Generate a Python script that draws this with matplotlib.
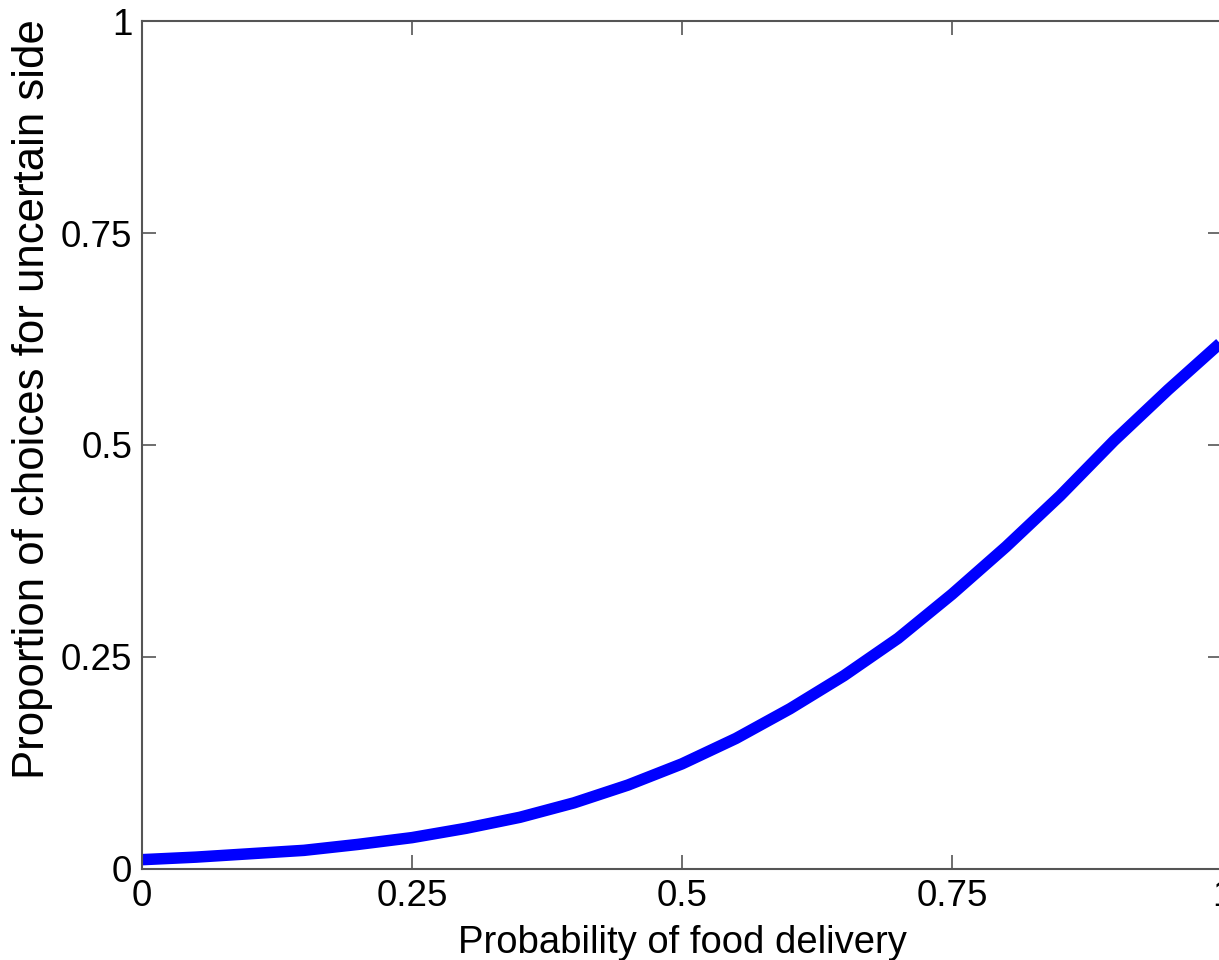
import numpy as np
import matplotlib.pyplot as plt

plt.rcParams['font.family'] = ['Liberation Sans', 'DejaVu Sans']

# valores
prob_comida = [0.00, 0.05, 0.10, 0.15, 0.20, 0.25, 0.30, 0.35, 0.40, 0.45, 0.50,
               0.55, 0.60, 0.65, 0.70, 0.75, 0.80, 0.85, 0.90, 0.95, 1.00]
prop_incierto = [0.011, 0.014, 0.018, 0.022, 0.029, 0.037, 0.048, 0.061, 0.078, 0.099, 0.124,
                 0.154, 0.189, 0.228, 0.272, 0.324, 0.380, 0.440, 0.505, 0.565, 0.622]
ticks = [0, 0.25, 0.5, 0.75, 1]
tick_labels = ['0', '0.25', '0.5', '0.75', '1']

fig = plt.figure(figsize=(12.19, 9.6), dpi=100)
ax = fig.add_axes([142 / 1219, 91 / 960, 1080 / 1219, 848 / 960])

ax.plot(prob_comida, prop_incierto, color='#0000ff', lw=8.3,
        solid_capstyle='butt', solid_joinstyle='round')

ax.set_xlim(0, 1)
ax.set_ylim(0, 1)
ax.set_xticks(ticks)
ax.set_xticklabels(tick_labels)
ax.set_yticks(ticks)
ax.set_yticklabels(tick_labels)
ax.tick_params(direction='in', length=10, width=1.2, color='#555555', labelsize=26.5,
               top=True, right=True, pad=7)
for s in ax.spines.values():
    s.set_color('#555555')
    s.set_linewidth(1.5)

ax.set_xlabel('Probability of food delivery', fontsize=27.5, labelpad=8)
ax.set_ylabel('Proportion of choices for uncertain side', fontsize=31.5)
# en el original la etiqueta y no esta centrada, va un poco mas arriba
ax.yaxis.set_label_coords(-0.082, 0.554)

fig.savefig('out.png', dpi=100)
